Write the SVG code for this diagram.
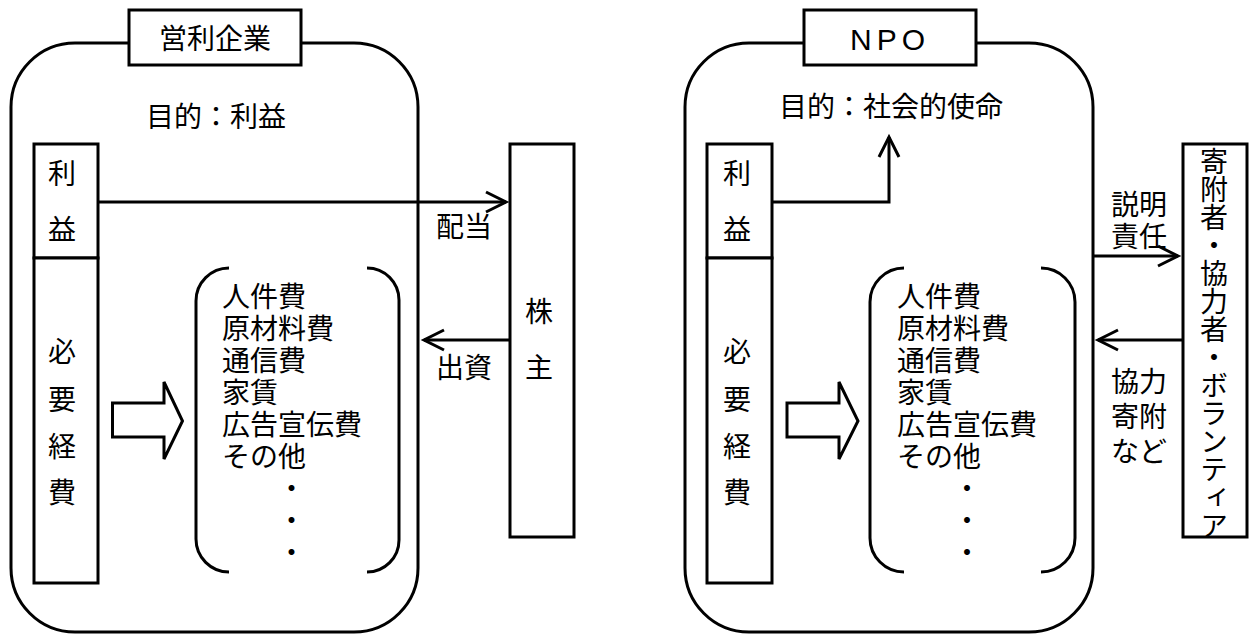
<svg xmlns="http://www.w3.org/2000/svg" width="1250" height="636" viewBox="0 0 1250 636">
<defs>
<style>
.ln{fill:none;stroke:#000;stroke-width:3}
.bx{fill:#fff;stroke:#000;stroke-width:3}
.t{font-family:"Noto Sans CJK JP","Noto Sans CJK SC",sans-serif;font-size:28px;fill:#000}
.c{text-anchor:middle}
.v{writing-mode:vertical-rl;letter-spacing:0px}
</style>
<marker id="ah" markerUnits="userSpaceOnUse" markerWidth="30" markerHeight="30" viewBox="0 0 30 30" refX="24" refY="12" orient="auto" overflow="visible">
<path d="M4,2 L24,12 L4,22" fill="none" stroke="#000" stroke-width="3"/>
</marker>
</defs>
<rect width="1250" height="636" fill="#fff"/>

<g id="corp">
<rect class="ln" x="11" y="43" width="407" height="589" rx="64" ry="64"/>
<g id="corp-title"><rect class="bx" x="129" y="10" width="172" height="55"/><text class="t c" x="215" y="49">営利企業</text></g>
<text id="corp-goal" class="t" x="146" y="127">目的：利益</text>
<g id="corp-profit"><rect class="bx" x="34" y="144" width="64" height="114"/><text class="t c" x="62" y="184">利</text><text class="t c" x="62" y="240">益</text></g>
<g id="corp-cost"><rect class="bx" x="34" y="258" width="64" height="325"/><text class="t c" x="62" y="362">必</text><text class="t c" x="62" y="410">要</text><text class="t c" x="62" y="457">経</text><text class="t c" x="62" y="503">費</text></g>
<g id="corp-list">
<path class="ln" d="M229,268 A33,33 0 0 0 196,301 V539 A33,33 0 0 0 229,572"/>
<path class="ln" d="M367,268 A32,32 0 0 1 399,300 V540 A32,32 0 0 1 367,572"/>
<text class="t" x="222" y="307">人件費</text>
<text class="t" x="222" y="339">原材料費</text>
<text class="t" x="222" y="371">通信費</text>
<text class="t" x="222" y="403">家賃</text>
<text class="t" x="222" y="435">広告宣伝費</text>
<text class="t" x="222" y="467">その他</text>
<text class="t c" x="291.5" y="499">・</text>
<text class="t c" x="291.5" y="531">・</text>
<text class="t c" x="291.5" y="563">・</text>
</g>
<polygon id="corp-block" class="ln" points="112.5,403 164,403 164,382 182.5,421 164,459 164,437 112.5,437"/>
</g>
<g id="shareholder"><rect class="bx" x="510" y="144" width="64" height="393"/><text class="t c" x="539" y="322">株</text><text class="t c" x="539" y="378">主</text></g>

<g id="npo">
<rect class="ln" x="685" y="43" width="408" height="589" rx="64" ry="64"/>
<g id="npo-title"><rect class="bx" x="804" y="10" width="172" height="55"/><text x="850" y="50" font-family="'Liberation Sans',Arial,sans-serif" font-size="30" letter-spacing="5">NPO</text></g>
<text id="npo-goal" class="t" x="779" y="117">目的：社会的使命</text>
<g id="npo-profit"><rect class="bx" x="707" y="144" width="65" height="114"/><text class="t c" x="737" y="184">利</text><text class="t c" x="737" y="240">益</text></g>
<g id="npo-cost"><rect class="bx" x="707" y="258" width="65" height="325"/><text class="t c" x="737" y="362">必</text><text class="t c" x="737" y="410">要</text><text class="t c" x="737" y="457">経</text><text class="t c" x="737" y="503">費</text></g>
<g id="npo-list">
<path class="ln" d="M904,268 A34,34 0 0 0 870,302 V538 A34,34 0 0 0 904,572"/>
<path class="ln" d="M1041,268 A34,34 0 0 1 1075,302 V538 A34,34 0 0 1 1041,572"/>
<text class="t" x="897" y="307">人件費</text>
<text class="t" x="897" y="339">原材料費</text>
<text class="t" x="897" y="371">通信費</text>
<text class="t" x="897" y="403">家賃</text>
<text class="t" x="897" y="435">広告宣伝費</text>
<text class="t" x="897" y="467">その他</text>
<text class="t c" x="967" y="499">・</text>
<text class="t c" x="967" y="531">・</text>
<text class="t c" x="967" y="563">・</text>
</g>
<polygon id="npo-block" class="ln" points="787,403 839,403 839,382 858,421 839,459 839,437 787,437"/>
</g>
<g id="supporters"><rect class="bx" x="1183" y="144" width="64" height="393"/><text class="t v" x="1214" y="147">寄附者・協力者・ボランティア</text></g>

<g id="connectors">
<path class="ln" d="M98,202 H506" marker-end="url(#ah)"/>
<path class="ln" d="M510,340 H424" marker-end="url(#ah)"/>
<path class="ln" d="M772,202 H889 V137" marker-end="url(#ah)"/>
<path class="ln" d="M1093,256 H1178" marker-end="url(#ah)"/>
<path class="ln" d="M1183,340 H1098" marker-end="url(#ah)"/>
</g>
<g id="labels">
<text class="t" x="436" y="237">配当</text>
<text class="t" x="436" y="378">出資</text>
<text class="t" x="1111" y="215">説明</text>
<text class="t" x="1111" y="247">責任</text>
<text class="t" x="1111" y="392">協力</text>
<text class="t" x="1111" y="427">寄附</text>
<text class="t" x="1111" y="462">など</text>
</g>
</svg>
